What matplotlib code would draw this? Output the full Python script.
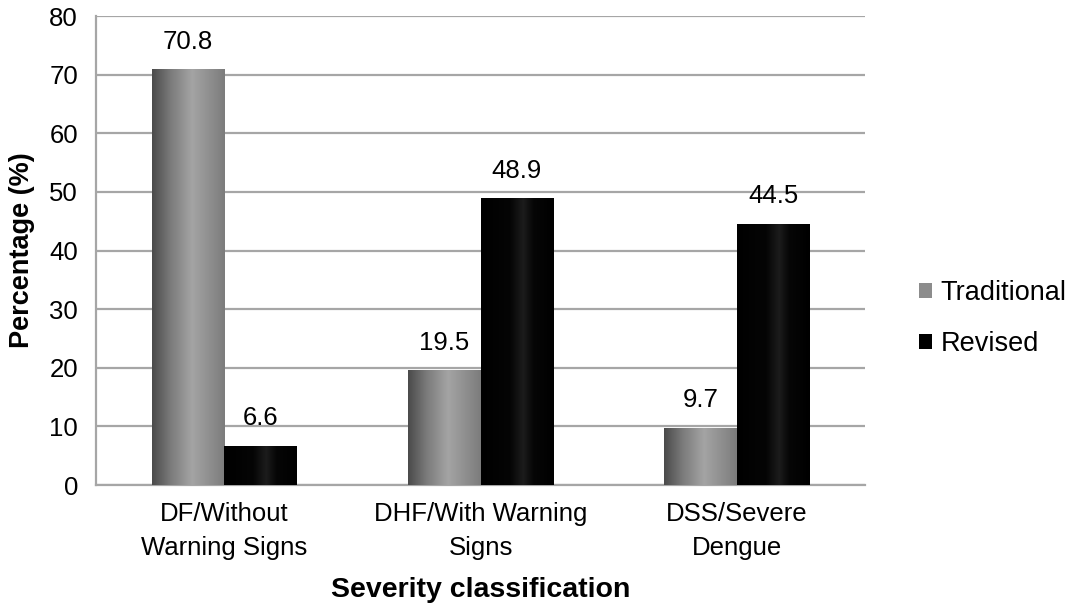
import numpy as np
import matplotlib.pyplot as plt
from matplotlib.patches import Patch
from matplotlib.colors import LinearSegmentedColormap

categories = ["DF/Without\nWarning Signs", "DHF/With Warning\nSigns", "DSS/Severe\nDengue"]
traditional = [70.8, 19.5, 9.7]
revised = [6.6, 48.9, 44.5]
series_names = ["Traditional", "Revised"]

plt.rcParams['font.family'] = ['Liberation Sans', 'DejaVu Sans']

# cylinder-ish shading like the old Excel charts
gray_cmap = LinearSegmentedColormap.from_list(
    "g", [(0, "#4a4a4a"), (0.25, "#7a7a7a"), (0.55, "#a4a4a4"), (0.8, "#8e8e8e"), (1, "#7c7c7c")])
black_cmap = LinearSegmentedColormap.from_list(
    "b", [(0, "#000000"), (0.4, "#050505"), (0.58, "#1c1c1c"), (0.72, "#060606"), (1, "#000000")])

fig = plt.figure(figsize=(10.76, 6.09), dpi=100)
ax = fig.add_axes([0.0892, 0.2036, 0.7148, 0.7701])

x = np.arange(len(categories))
w = 0.283
grad = np.linspace(0, 1, 256).reshape(1, -1)

for vals, off, cmap in [(traditional, -w / 2, gray_cmap), (revised, w / 2, black_cmap)]:
    bars = ax.bar(x + off, vals, width=w, color="none", zorder=3)
    for b, v in zip(bars, vals):
        x0 = b.get_x()
        ax.imshow(grad, cmap=cmap, aspect="auto", extent=(x0, x0 + w, 0, v),
                  zorder=3, interpolation="bilinear")
        ax.text(x0 + w / 2, v + 2.7, f"{v}", ha="center", va="bottom", fontsize=18.5, zorder=4)

ax.set_xlim(-0.5, 2.5)
ax.set_ylim(0, 80)
ax.set_yticks(range(0, 81, 10))
ax.set_xticks(x)
ax.set_xticklabels(categories, fontsize=18.5, linespacing=1.55)
ax.tick_params(axis="both", length=0, labelsize=18.5)
ax.tick_params(axis="y", pad=13)
ax.tick_params(axis="x", pad=12)
ax.yaxis.grid(True, color="#a6a6a6", linewidth=1.6, zorder=0)
ax.set_axisbelow(True)
for s in ["top", "right"]:
    ax.spines[s].set_visible(False)
for s in ["left", "bottom"]:
    ax.spines[s].set_color("#a6a6a6")
    ax.spines[s].set_linewidth(1.6)

ax.set_ylabel("Percentage (%)", fontsize=19.5, fontweight="bold", labelpad=10)
ax.set_xlabel("Severity classification", fontsize=20.5, fontweight="bold", labelpad=12)

handles = [Patch(facecolor="#8c8c8c"), Patch(facecolor="#000000")]
fig.legend(handles, series_names, loc="center left", bbox_to_anchor=(0.8318, 0.477),
           frameon=False, fontsize=19.5, handlelength=0.45, handleheight=0.45,
           handletextpad=0.33, labelspacing=0.93)

fig.savefig("out.png", dpi=100)
